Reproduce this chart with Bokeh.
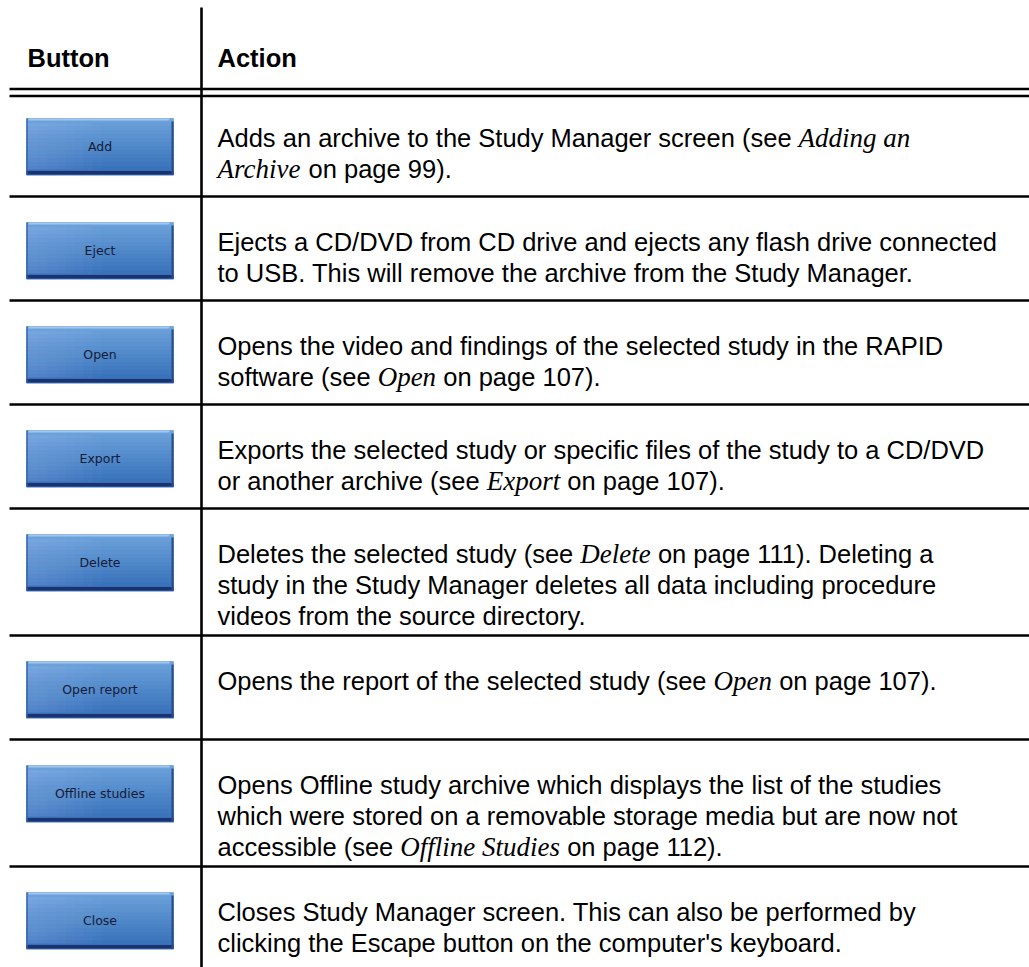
from bokeh.plotting import figure
from bokeh.models import Range1d
from bokeh.core.properties import value
from bokeh.embed import file_html
from bokeh.resources import INLINE

# ---------------- data ----------------
header_labels = ["Button", "Action"]
button_labels = ["Add", "Eject", "Open", "Export", "Delete",
                 "Open report", "Offline studies", "Close"]

# each row: list of lines; each line: list of (text, italic) segments
action_rows = [
    [[("Adds an archive to the Study Manager screen (see ", False), ("Adding an", True)],
     [("Archive", True), (" on page 99).", False)]],
    [[("Ejects a CD/DVD from CD drive and ejects any flash drive connected", False)],
     [("to USB. This will remove the archive from the Study Manager.", False)]],
    [[("Opens the video and findings of the selected study in the RAPID", False)],
     [("software (see ", False), ("Open", True), (" on page 107).", False)]],
    [[("Exports the selected study or specific files of the study to a CD/DVD", False)],
     [("or another archive (see ", False), ("Export", True), (" on page 107).", False)]],
    [[("Deletes the selected study (see ", False), ("Delete", True), (" on page 111). Deleting a", False)],
     [("study in the Study Manager deletes all data including procedure", False)],
     [("videos from the source directory.", False)]],
    [[("Opens the report of the selected study (see ", False), ("Open", True), (" on page 107).", False)]],
    [[("Opens Offline study archive which displays the list of the studies", False)],
     [("which were stored on a removable storage media but are now not", False)],
     [("accessible (see ", False), ("Offline Studies", True), (" on page 112).", False)]],
    [[("Closes Study Manager screen. This can also be performed by", False)],
     [("clicking the Escape button on the computer's keyboard.", False)]],
]

# ---------------- font metrics (per 1000 em) ----------------
SANS = {' ': 278, '!': 278, "'": 191, '(': 333, ')': 333, ',': 278, '-': 333, '.': 278,
        '/': 278, ':': 278}
for c in "0123456789":
    SANS[c] = 556
SANS.update(dict(zip("ABCDEFGHIJKLMNOPQRSTUVWXYZ",
                     [667, 667, 722, 722, 667, 611, 778, 722, 278, 500, 667, 556, 833,
                      722, 778, 667, 778, 722, 667, 611, 722, 667, 944, 667, 667, 611])))
SANS.update(dict(zip("abcdefghijklmnopqrstuvwxyz",
                     [556, 556, 500, 556, 556, 278, 556, 556, 222, 222, 500, 222, 833,
                      556, 556, 556, 556, 333, 500, 278, 556, 500, 722, 500, 500, 500])))
SERIF_I = {'A': 611, 'd': 500, 'i': 278, 'n': 500, 'g': 500, ' ': 250, 'a': 500, 'r': 389,
           'c': 444, 'h': 500, 'v': 444, 'e': 444, 'O': 722, 'p': 500, 'E': 611, 'x': 444,
           'o': 500, 't': 278, 'D': 722, 'l': 278, 'f': 278, 'S': 500, 'u': 500, 's': 389}

FS = 25.5      # sans body size (px)
FS_I = 27.0    # serif italic size (px)
LH = 31.0      # line spacing


def seg_width(txt, italic):
    if italic:
        return sum(SERIF_I.get(ch, 500) for ch in txt) / 1000.0 * FS_I
    return sum(SANS.get(ch, 556) for ch in txt) / 1000.0 * FS


# ---------------- layout ----------------
X0, X1 = 0, 1029
Y0, Y1 = 0, 967
COL_X = 201
TEXT_X = 217
BTN_L, BTN_R = 26, 173
BTN_H = 56

p = figure(width=X1 - X0, height=Y1 - Y0,
           x_range=Range1d(X0, X1), y_range=Range1d(Y1, Y0),
           output_backend="svg", toolbar_location=None, min_border=0,
           x_axis_type=None, y_axis_type=None)
p.grid.visible = False
p.outline_line_color = None
p.background_fill_color = "white"
p.border_fill_color = "white"

# header
p.text(x=[27, TEXT_X], y=[57, 57], text=header_labels,
       text_font=value("Liberation Sans"), text_font_style="bold",
       text_font_size="25.5px", text_baseline="alphabetic", text_color="#000000")

# double line under header
p.segment(x0=[9, 9], x1=[X1, X1], y0=[88.5, 95.5], y1=[88.5, 95.5],
          line_color="black", line_width=2.6)

# rows
row_top = 92.0
sep_y = []
seg_x, seg_y, seg_t = [], [], []
iseg_x, iseg_y, iseg_t = [], [], []
btn_centers = []
for label, lines in zip(button_labels, action_rows):
    n = len(lines)
    h = max(104.0, 34.0 + LH * n)
    base = row_top + 45.0
    for li, line in enumerate(lines):
        x = TEXT_X
        yb = base + li * LH
        for txt, it in line:
            lead = len(txt) - len(txt.lstrip(' '))
            xs = x + seg_width(txt[:lead], it)
            if it:
                iseg_x.append(xs); iseg_y.append(yb); iseg_t.append(txt.strip())
            else:
                seg_x.append(xs); seg_y.append(yb); seg_t.append(txt.strip())
            x += seg_width(txt, it)
    btn_centers.append(row_top + 26 + BTN_H / 2)
    row_top += h
    sep_y.append(row_top)

sep_y = sep_y[:-1]
p.segment(x0=[9] * len(sep_y), x1=[X1] * len(sep_y), y0=sep_y, y1=sep_y,
          line_color="black", line_width=2.6)
# vertical column divider
p.segment(x0=[COL_X], x1=[COL_X], y0=[7], y1=[Y1], line_color="black", line_width=2.6)

p.text(x=seg_x, y=seg_y, text=seg_t, text_font=value("Liberation Sans"),
       text_font_size=f"{FS}px", text_baseline="alphabetic", text_color="#000000")
p.text(x=iseg_x, y=iseg_y, text=iseg_t, text_font=value("Liberation Serif"),
       text_font_style="italic", text_font_size=f"{FS_I}px",
       text_baseline="alphabetic", text_color="#000000")

# buttons (vertical gradient made of strips)
top_c = (0x6c, 0xa2, 0xdb)
bot_c = (0x36, 0x70, 0xb8)
NS = 14
nb = len(btn_centers)
ql, qr, qt, qb, qc = [], [], [], [], []
for cy in btn_centers:
    t0 = cy - BTN_H / 2
    for k in range(NS):
        f = k / (NS - 1)
        col = "#%02x%02x%02x" % tuple(int(a + (b - a) * f) for a, b in zip(top_c, bot_c))
        ql.append(BTN_L); qr.append(BTN_R)
        qt.append(t0 + BTN_H * k / NS); qb.append(t0 + BTN_H * (k + 1) / NS + 0.6)
        qc.append(col)
p.quad(left=ql, right=qr, top=qt, bottom=qb, fill_color=qc, line_color=qc, line_width=0.8)

tops = [c - BTN_H / 2 for c in btn_centers]
bots = [c + BTN_H / 2 for c in btn_centers]
# left soft highlight, fading to the right
NH = 8
hl, hr, ht, hb = [], [], [], []
for t, b in zip(tops, bots):
    for k in range(NH):
        hl.append(BTN_L + 1); hr.append(BTN_L + 12 + k * 9)
        ht.append(t + 4); hb.append(b - 5)
p.quad(left=hl, right=hr, top=ht, bottom=hb, fill_color="#b4d4f4", fill_alpha=0.035,
       line_color=None)
# top highlight
p.quad(left=[BTN_L + 2] * nb, right=[BTN_R - 4] * nb, top=tops, bottom=[t + 2 for t in tops],
       fill_color="#a3c6ec", line_color=None)
# bottom dark edge
p.quad(left=[BTN_L] * nb, right=[BTN_R] * nb, top=[b - 3.5 for b in bots], bottom=bots,
       fill_color="#1c3170", line_color=None)
# right dark edge
p.quad(left=[BTN_R - 2] * nb, right=[BTN_R] * nb, top=[t + 3 for t in tops], bottom=bots,
       fill_color="#2a4a8a", line_color=None)
# left edge
p.quad(left=[BTN_L] * nb, right=[BTN_L + 1.2] * nb, top=tops, bottom=bots,
       fill_color="#3565a8", line_color=None)

p.text(x=[(BTN_L + BTN_R) / 2] * nb, y=btn_centers, text=button_labels,
       text_font=value("DejaVu Sans"), text_font_size="12.5px", text_align="center",
       text_baseline="middle", text_color="#141a38")

open("out.html", "w").write(file_html(p, INLINE))
